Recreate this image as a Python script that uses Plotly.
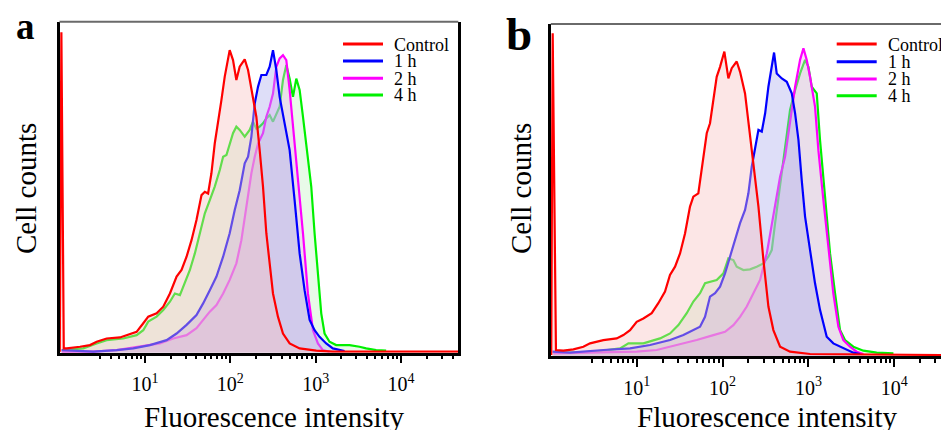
import plotly.graph_objects as go

# ---------------- data (x = log10 fluorescence intensity, y = relative cell counts) -------------
series_names = ["Control", "1 h", "2 h", "4 h"]
series_colors = ["#ff0000", "#0000ff", "#ff00ff", "#00f000"]
fill_colors = ["rgba(248,193,193,0.4)", "rgba(173,173,238,0.4)",
               "rgba(238,180,238,0.4)", "rgba(198,243,198,0.4)"]

# Panel a
a_ctrl_logx = [0.003, 0.022, 0.05, 0.085, 0.24, 0.357, 0.435, 0.552, 0.708, 0.864, 0.903, 0.981, 1.039,
               1.137, 1.215, 1.293, 1.371, 1.429, 1.488, 1.546, 1.604, 1.663, 1.702, 1.740, 1.779, 1.818,
               1.857, 1.896, 1.935, 1.993, 2.032, 2.071, 2.110, 2.169, 2.208, 2.247, 2.305, 2.344, 2.383,
               2.422, 2.461, 2.500, 2.558, 2.617, 2.695, 2.812, 3.007, 3.2, 4.67]
a_ctrl_y = [0.3, 96.8, 1.3, 1.3, 1.8, 2.3, 3.3, 4.3, 4.6, 5.8, 6.3, 8.9, 10.9, 11.9, 13.9, 17.9, 23.0,
            25.0, 29.0, 34.0, 40.1, 47.6, 48.6, 48.1, 54.2, 63.2, 69.3, 76.3, 83.4, 91.4, 88.4, 82.4,
            86.4, 88.6, 85.4, 79.4, 71.3, 61.2, 50.2, 36.1, 26.0, 17.9, 10.9, 5.8, 2.8, 1.3, 0.6, 0.3, 0.3]

a_1h_logx = [0.026, 0.396, 0.669, 0.864, 1.059, 1.254, 1.371, 1.488, 1.604, 1.682, 1.760, 1.838, 1.916,
             1.993, 2.052, 2.110, 2.169, 2.208, 2.247, 2.286, 2.325, 2.364, 2.422, 2.461, 2.500, 2.539,
             2.578, 2.636, 2.695, 2.753, 2.812, 2.870, 2.929, 2.987, 3.045, 3.123, 3.201, 3.338]
a_1h_y = [0.8, 0.3, 0.8, 1.3, 2.3, 3.8, 5.8, 8.4, 11.4, 14.9, 18.9, 23.0, 29.0, 36.1, 43.1, 49.1, 57.2,
          59.2, 65.3, 75.3, 80.4, 83.9, 83.9, 86.4, 91.4, 85.4, 77.3, 69.3, 61.2, 46.1, 30.0, 18.9, 9.9,
          6.8, 4.8, 2.8, 1.3, 0.5]

a_2h_logx = [0.026, 0.396, 0.669, 0.942, 1.176, 1.332, 1.488, 1.604, 1.682, 1.760, 1.838, 1.916, 1.993,
             2.071, 2.130, 2.169, 2.208, 2.247, 2.286, 2.325, 2.383, 2.422, 2.461, 2.500, 2.539, 2.578,
             2.617, 2.656, 2.695, 2.734, 2.792, 2.851, 2.909, 2.968, 3.026, 3.084, 3.162]
a_2h_y = [0.3, 0.3, 0.8, 1.8, 2.8, 4.3, 5.3, 7.4, 9.9, 12.4, 14.4, 17.9, 22.0, 27.0, 34.0, 41.1, 48.1,
          54.2, 59.2, 63.2, 66.3, 71.3, 74.3, 78.3, 86.4, 88.9, 89.9, 88.4, 79.4, 68.3, 54.2, 36.1, 17.9,
          6.8, 2.8, 0.8, 0.3]

a_4h_logx = [0.026, 0.279, 0.435, 0.552, 0.747, 0.903, 0.981, 1.039, 1.137, 1.215, 1.293, 1.351, 1.410,
             1.468, 1.527, 1.585, 1.643, 1.702, 1.760, 1.818, 1.877, 1.916, 1.955, 1.993, 2.032, 2.071,
             2.110, 2.169, 2.227, 2.266, 2.305, 2.344, 2.383, 2.422, 2.461, 2.500, 2.539, 2.578, 2.617,
             2.656, 2.695, 2.734, 2.773, 2.812, 2.851, 2.890, 2.948, 2.987, 3.026, 3.065, 3.104, 3.162,
             3.240, 3.396, 3.513, 3.591, 3.708, 3.825]
a_4h_y = [0.8, 1.3, 2.8, 3.8, 4.3, 5.3, 6.8, 9.4, 10.9, 12.9, 15.4, 17.9, 17.4, 20.9, 25.0, 30.0, 36.1,
          42.1, 46.1, 50.2, 55.2, 59.2, 59.7, 63.2, 66.3, 68.3, 67.3, 65.3, 67.3, 69.8, 67.7, 68.3, 69.3,
          70.8, 71.8, 69.8, 72.3, 74.3, 82.4, 86.9, 82.8, 77.3, 82.8, 79.4, 71.3, 63.2, 50.2, 36.1, 23.0,
          11.9, 5.8, 3.3, 2.3, 2.3, 1.8, 1.3, 0.8, 0.6]

# Panel b
b_ctrl_logx = [0.005, 0.022, 0.06, 0.146, 0.263, 0.379, 0.457, 0.612, 0.767, 0.845, 0.923, 1.0, 1.078,
               1.175, 1.252, 1.330, 1.388, 1.447, 1.505, 1.563, 1.621, 1.660, 1.718, 1.777, 1.816, 1.854,
               1.893, 1.932, 1.971, 2.021, 2.068, 2.107, 2.165, 2.204, 2.262, 2.301, 2.359, 2.418, 2.476,
               2.534, 2.592, 2.670, 2.786, 3.019, 4.55]
b_ctrl_y = [0.3, 97.2, 1.8, 1.6, 2.0, 2.8, 3.8, 4.8, 5.3, 6.3, 7.8, 10.3, 11.3, 12.9, 15.9, 19.4, 24.4,
            26.9, 30.9, 36.9, 45.0, 48.0, 49.0, 59.0, 67.1, 70.1, 77.1, 84.1, 87.1, 91.7, 83.6, 86.7,
            88.7, 85.6, 79.1, 70.1, 57.0, 45.0, 28.9, 14.9, 7.8, 2.8, 1.3, 0.6, 0.3]

b_1h_logx = [0.02, 0.225, 0.613, 0.923, 1.156, 1.389, 1.544, 1.660, 1.738, 1.796, 1.854, 1.913, 1.971,
             2.029, 2.087, 2.146, 2.204, 2.262, 2.301, 2.340, 2.379, 2.418, 2.457, 2.496, 2.534, 2.573,
             2.600, 2.631, 2.690, 2.748, 2.806, 2.845, 2.884, 2.922, 2.961, 3.019, 3.077, 3.135, 3.213,
             3.290, 3.407, 3.523, 3.601]
b_1h_y = [1.3, 1.0, 1.8, 2.3, 3.3, 4.8, 6.3, 7.8, 8.8, 11.8, 17.9, 18.9, 20.9, 24.9, 29.9, 34.9, 40.0,
          44.0, 49.0, 57.0, 62.0, 68.1, 67.6, 73.1, 81.1, 87.1, 91.4, 85.1, 83.6, 82.6, 79.1, 73.1, 65.1,
          53.0, 42.0, 31.9, 21.9, 13.9, 5.8, 3.8, 2.3, 1.0, 0.6]

b_2h_logx = [0.03, 0.613, 1.0, 1.233, 1.466, 1.699, 1.893, 2.029, 2.126, 2.204, 2.282, 2.359, 2.437,
             2.515, 2.592, 2.670, 2.728, 2.786, 2.845, 2.903, 2.942, 2.980, 3.019, 3.077, 3.116, 3.174,
             3.232, 3.290, 3.349, 3.407, 3.484, 3.562, 3.640]
b_2h_y = [0.8, 1.0, 1.3, 1.8, 3.3, 4.8, 6.3, 7.3, 9.3, 11.8, 14.9, 18.9, 22.9, 30.9, 42.0, 54.0, 60.0,
          71.1, 81.1, 89.2, 92.7, 89.2, 84.1, 75.1, 62.0, 47.0, 31.9, 18.9, 8.8, 4.8, 2.8, 1.3, 0.6]

b_4h_logx = [0.03, 0.341, 0.613, 0.807, 0.904, 1.078, 1.272, 1.389, 1.486, 1.583, 1.660, 1.738, 1.796,
             1.854, 1.932, 2.010, 2.068, 2.126, 2.165, 2.243, 2.320, 2.398, 2.476, 2.534, 2.573, 2.612,
             2.670, 2.728, 2.786, 2.845, 2.903, 2.961, 3.0, 3.038, 3.097, 3.135, 3.193, 3.252, 3.310,
             3.368, 3.426, 3.523, 3.640, 3.795, 3.99]
b_4h_y = [1.0, 1.0, 1.6, 2.3, 3.8, 3.8, 5.3, 6.8, 9.3, 12.9, 16.4, 18.9, 21.9, 22.4, 22.9, 24.9, 29.4,
          28.9, 26.9, 25.9, 26.1, 26.9, 27.9, 29.9, 31.9, 40.0, 51.0, 62.0, 74.1, 80.1, 85.1, 89.2, 87.1,
          81.1, 79.1, 65.1, 47.0, 30.9, 18.9, 7.8, 4.8, 2.8, 1.6, 1.0, 0.8]

major_tickvals = [10, 100, 1000, 10000]
major_ticktext = ["10<sup>1</sup>", "10<sup>2</sup>", "10<sup>3</sup>", "10<sup>4</sup>"]
minor_tickvals = [3, 4, 5, 6, 7, 8, 9,
                  20, 30, 40, 50, 60, 70, 80, 90,
                  200, 300, 400, 500, 600, 700, 800, 900,
                  2000, 3000, 4000, 5000, 6000, 7000, 8000, 9000,
                  20000, 30000, 40000]

panels = {
    "a": [(a_ctrl_logx, a_ctrl_y), (a_1h_logx, a_1h_y), (a_2h_logx, a_2h_y), (a_4h_logx, a_4h_y)],
    "b": [(b_ctrl_logx, b_ctrl_y), (b_1h_logx, b_1h_y), (b_2h_logx, b_2h_y), (b_4h_logx, b_4h_y)],
}

W, H = 941, 430
FONT = "Liberation Serif"

fig = go.Figure()
draw_order = [3, 2, 1, 0]  # 4 h, 2 h, 1 h, Control (Control on top)
for pi, (pkey, xy) in enumerate(panels.items()):
    xa = "x" if pi == 0 else "x2"
    ya = "y" if pi == 0 else "y2"
    for k in draw_order:
        lx, yy = xy[k]
        fig.add_trace(go.Scatter(
            x=[10 ** v for v in lx], y=yy, mode="lines", name=series_names[k],
            line=dict(color=series_colors[k], width=2.2),
            fill="tozeroy", fillcolor=fill_colors[k],
            xaxis=xa, yaxis=ya, showlegend=False, hoverinfo="skip"))

def xaxis_cfg(domain, rng):
    return dict(domain=domain, type="log", range=rng, showgrid=False, zeroline=False,
                showline=True, linecolor="black", linewidth=2.5,
                tickmode="array", tickvals=major_tickvals, ticktext=major_ticktext,
                ticks="outside", ticklen=8, tickwidth=2, tickcolor="black",
                ticklabelstandoff=4,
                tickfont=dict(family=FONT, size=20, color="black"),
                minor=dict(tickmode="array", tickvals=minor_tickvals, ticks="outside",
                           ticklen=4, tickwidth=2, tickcolor="black", showgrid=False))

def yaxis_cfg(domain, mirror):
    return dict(domain=domain, range=[0, 100], showgrid=False, zeroline=False,
                showline=True, linecolor="black", linewidth=2.5, mirror=mirror,
                showticklabels=False, ticks="")

fig.update_layout(
    width=W, height=H, margin=dict(l=0, r=0, t=0, b=0),
    paper_bgcolor="white", plot_bgcolor="white", showlegend=False,
    font=dict(family=FONT, color="black"),
    xaxis=xaxis_cfg([59.5 / W, 458.3 / W], [0, 4.67]),
    yaxis=yaxis_cfg([(H - 352.7) / H, (H - 21.7) / H], True),
    xaxis2=xaxis_cfg([550.8 / W, 1.0], [0, 4.544]),
    yaxis2=yaxis_cfg([(H - 356) / H, (H - 24) / H], False),
)
fig.layout.xaxis2.anchor = "y2"
fig.layout.yaxis2.anchor = "x2"

# top frame lines (grey)
for xr, yr in (("x domain", "y domain"), ("x2 domain", "y2 domain")):
    fig.add_shape(type="line", xref=xr, yref=yr, x0=0, x1=1, y0=1, y1=1,
                  line=dict(color="#6a6a6a", width=2))

def px(x):
    return x / W

def py(y):
    return 1 - y / H

ann = []
# panel letters
ann.append(dict(text="<b>a</b>", x=px(25.5), y=py(26), font=dict(size=37)))
ann.append(dict(text="<b>b</b>", x=px(519), y=py(34), font=dict(size=47)))
# axis titles
for cx in (26, 521):
    ann.append(dict(text="Cell counts", x=px(cx), y=py(189), textangle=-90, font=dict(size=29)))
for cx in (274, 767.5):
    ann.append(dict(text="Fluorescence intensity", x=px(cx), y=py(416.5), font=dict(size=29)))
for a in ann:
    a.update(xref="paper", yref="paper", showarrow=False, xanchor="center", yanchor="middle")
    a["font"].update(family=FONT, color="black")
    fig.add_annotation(**a)

# manual legends
legend_specs = [
    dict(x0=343, x1=383, xt=392, ys=[44, 61, 78.3, 95]),
    dict(x0=836.7, x1=876.7, xt=885.7, ys=[44, 61.7, 79, 95.7]),
]
for spec in legend_specs:
    for k, yl in enumerate(spec["ys"]):
        fig.add_shape(type="line", xref="paper", yref="paper",
                      x0=px(spec["x0"]), x1=px(spec["x1"]), y0=py(yl), y1=py(yl),
                      line=dict(color=series_colors[k], width=3))
        fig.add_annotation(text=series_names[k], xref="paper", yref="paper",
                           x=px(spec["xt"]), y=py(yl + 0.5), xanchor="left", yanchor="middle",
                           showarrow=False, font=dict(family=FONT, size=18, color="black"))

fig.write_html("out.html", config={"displayModeBar": False},
               post_script="document.body.style.margin='0px';document.body.style.overflow='hidden';")
